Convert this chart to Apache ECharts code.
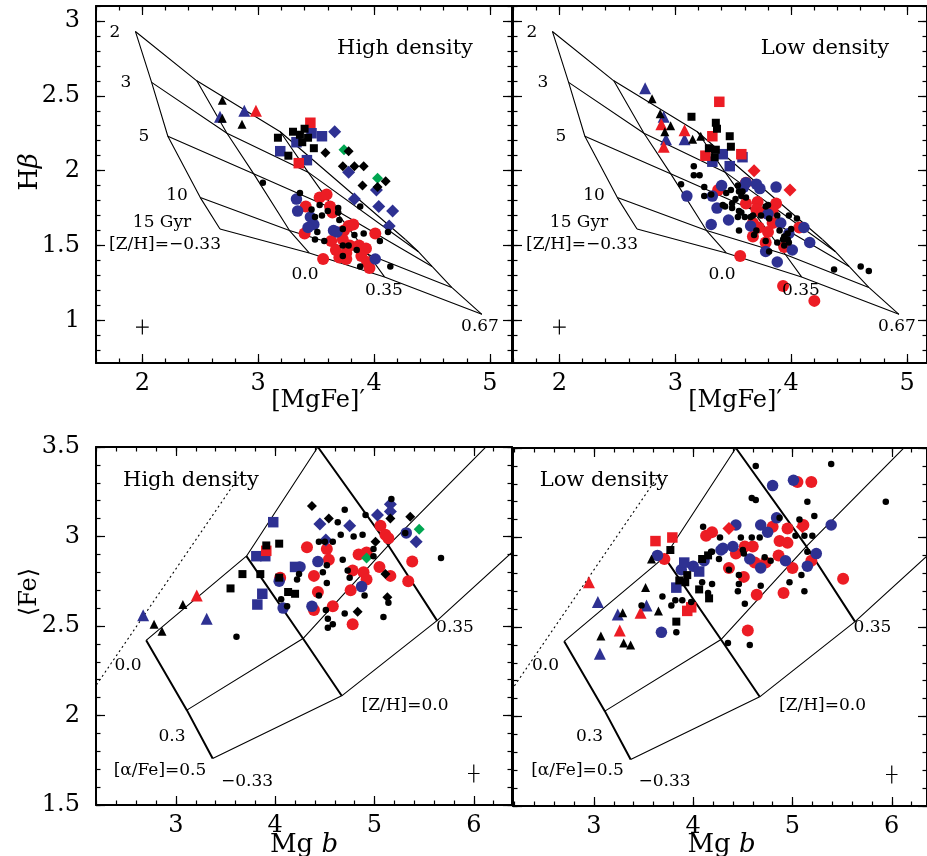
<!DOCTYPE html>
<html><head><meta charset="utf-8">
<script src="https://cdn.jsdelivr.net/npm/echarts@6/dist/echarts.min.js"></script>
<style>html,body{margin:0;padding:0;background:#fff}#c{width:927px;height:856px}</style>
</head><body><div id="c"></div>
<script>
// ---------- tick labels ----------
const TOP_X_TICKS = [2, 3, 4, 5];
const TOP_Y_TICKS = [1, 1.5, 2, 2.5, 3];
const BOT_X_TICKS = [3, 4, 5, 6];
const BOT_Y_TICKS = [1.5, 2, 2.5, 3, 3.5];

// ---------- model grid: Hbeta vs [MgFe]' (rows = [Z/H], cols = ages) ----------
const ages = [2, 3, 5, 10, 15];
const zhTop = [-0.33, 0.0, 0.35, 0.67];
const mgfeModel = [
  [1.94, 2.08, 2.22, 2.50, 2.67],
  [2.47, 2.73, 2.96, 3.27, 3.44],
  [3.19, 3.43, 3.66, 3.95, 4.09],
  [4.27, 4.38, 4.50, 4.67, 4.93]
];
const hbetaModel = [
  [2.93, 2.59, 2.23, 1.82, 1.61],
  [2.60, 2.25, 1.98, 1.60, 1.45],
  [2.26, 1.99, 1.74, 1.44, 1.29],
  [1.54, 1.46, 1.36, 1.22, 1.04]
];
// ---------- model grid: <Fe> vs Mg b (rows = [alpha/Fe], cols = [Z/H]) ----------
const alphaFe = [0.0, 0.3, 0.5];
const zhBot = [-0.33, 0.0, 0.35, 0.67];
const mgbModel = [
  [2.70, 3.71, 4.43, 5.00],
  [3.11, 4.28, 5.14, 6.30],
  [3.37, 4.67, 5.63, 6.60]
];
const feModel = [
  [2.42, 2.89, 3.50, 3.97],
  [2.03, 2.43, 2.95, 3.60],
  [1.76, 2.11, 2.53, 3.02]
];
const dottedMgb = [2.00, 3.68];
const dottedFe = [2.01, 3.37];
// typical error bars [x, y, dx, dy]
const errTop = [2.0, 0.955, 0.055, 0.05];
const errBot = [6.0, 1.676, 0.058, 0.05];

// ---------- High density, Hbeta vs [MgFe]' ----------
const tlBlackTri = [[2.69,2.47],[2.69,2.35],[2.86,2.31]];
const tlBlueTri = [[2.67,2.36],[2.88,2.40]];
const tlRedTri = [[2.98,2.40]];
const tlBlackSq = [[3.17,2.22],[3.30,2.26],[3.40,2.28],[3.36,2.24],[3.43,2.22],[3.38,2.19],[3.26,2.10],[3.48,2.15]];
const tlBlueSq = [[3.19,2.13],[3.33,2.19],[3.46,2.25],[3.55,2.23],[3.42,2.07]];
const tlRedSq = [[3.45,2.32],[3.35,2.05]];
const tlBlackDia = [[3.58,2.12],[3.78,2.13],[3.73,2.03],[3.83,2.03],[3.91,2.03],[3.90,1.90],[4.03,1.89],[4.10,1.93]];
const tlGreenDia = [[3.74,2.14],[4.03,1.95]];
const tlBlueDia = [[3.66,2.26],[3.78,1.99],[3.83,1.81],[4.02,1.87],[4.04,1.76],[4.16,1.73],[4.13,1.63]];
const tlBlackDot = [[3.04,1.92],[3.36,1.85],[3.88,1.76],[3.53,1.77],[3.46,1.74],[3.69,1.75],[3.60,1.73],[3.69,1.72],[3.49,1.69],[3.55,1.70],[3.70,1.67],[3.51,1.59],[3.73,1.61],[4.12,1.59],[3.83,1.57],[3.91,1.58],[3.49,1.54],[3.57,1.53],[4.05,1.53],[3.73,1.50],[3.78,1.50],[3.85,1.47],[3.73,1.43],[3.88,1.36],[4.14,1.36]];
const tlRedCirc = [[3.53,1.82],[3.59,1.84],[3.41,1.76],[3.62,1.76],[3.64,1.72],[3.82,1.64],[3.78,1.63],[3.40,1.58],[3.74,1.60],[4.01,1.58],[3.63,1.53],[3.73,1.54],[3.79,1.50],[3.87,1.50],[3.93,1.48],[3.67,1.47],[3.76,1.45],[3.70,1.42],[3.76,1.41],[3.89,1.43],[3.56,1.41],[3.94,1.39],[3.96,1.35]];
const tlBlueCirc = [[3.33,1.81],[3.34,1.73],[3.45,1.69],[3.48,1.64],[3.43,1.62],[3.65,1.60],[3.68,1.59],[4.01,1.41]];

// ---------- Low density, Hbeta vs [MgFe]' ----------
const trBlueTri = [[2.74,2.55],[2.90,2.36],[3.08,2.21],[2.92,2.21]];
const trBlackTri = [[2.80,2.48],[2.87,2.38],[2.96,2.30],[2.91,2.26],[3.15,2.21],[3.22,2.23]];
const trRedTri = [[2.88,2.31],[3.08,2.27],[2.90,2.16]];
const trRedSq = [[3.38,2.46],[3.32,2.23],[3.26,2.10],[3.57,2.11]];
const trBlackSq = [[3.14,2.36],[3.35,2.32],[3.36,2.28],[3.47,2.23],[3.48,2.16],[3.29,2.15],[3.34,2.09],[3.35,2.14]];
const trBlueSq = [[3.41,2.11],[3.32,2.06],[3.47,2.03],[3.58,2.09]];
const trRedDia = [[3.68,2.00],[3.99,1.87]];
const trBlackDot = [[3.16,2.03],[3.16,1.97],[3.21,1.97],[3.05,1.91],[3.25,1.89],[3.25,1.83],[3.31,1.84],[3.44,1.85],[3.48,1.87],[3.54,1.90],[3.55,1.86],[3.57,1.83],[3.52,1.81],[3.49,1.78],[3.43,1.76],[3.41,1.77],[3.49,1.75],[3.55,1.73],[3.60,1.69],[3.54,1.69],[3.58,1.86],[3.61,1.82],[3.78,1.76],[3.80,1.77],[3.65,1.69],[3.74,1.70],[3.81,1.68],[3.88,1.70],[3.98,1.70],[4.05,1.68],[3.57,1.72],[3.67,1.70],[3.55,1.60],[3.70,1.60],[3.68,1.57],[3.78,1.53],[3.81,1.46],[3.88,1.52],[3.93,1.54],[3.94,1.56],[3.97,1.54],[3.94,1.50],[3.98,1.52],[3.97,1.58],[4.00,1.61],[4.37,1.34],[4.60,1.36],[4.67,1.33],[3.90,1.60]];
const trBlueCirc = [[3.10,1.83],[3.40,1.90],[3.32,1.83],[3.59,1.89],[3.61,1.92],[3.70,1.91],[3.73,1.88],[3.87,1.89],[3.36,1.75],[3.46,1.67],[3.31,1.64],[3.80,1.71],[3.91,1.65],[4.11,1.62],[4.16,1.52],[4.01,1.47],[3.88,1.39],[3.78,1.46],[3.65,1.63],[3.98,1.58]];
const trRedCirc = [[3.37,1.87],[3.61,1.92],[3.71,1.79],[3.61,1.78],[3.87,1.78],[3.70,1.74],[3.75,1.72],[3.84,1.73],[3.84,1.65],[3.67,1.65],[3.72,1.62],[3.80,1.59],[4.07,1.62],[3.78,1.52],[3.67,1.56],[3.94,1.49],[3.56,1.43],[3.93,1.23],[4.20,1.13]];

// ---------- High density, <Fe> vs Mg b ----------
const blBlueTri = [[2.67,2.56],[3.31,2.54]];
const blBlackTri = [[2.78,2.51],[2.86,2.47],[3.07,2.62]];
const blRedTri = [[3.21,2.67]];
const blBlackSq = [[3.55,2.71],[3.67,2.79],[3.85,2.79],[3.91,2.95],[4.04,2.96],[4.04,2.77],[4.13,2.69],[4.20,2.68]];
const blBlueSq = [[3.98,3.08],[3.81,2.89],[3.90,2.89],[4.20,2.83],[3.87,2.68],[3.82,2.62]];
const blRedSq = [[3.91,2.92]];
const blBlackDia = [[4.37,3.17],[4.54,3.10],[5.16,3.10],[5.36,3.11],[5.01,2.97],[5.11,2.79],[5.13,2.66],[4.83,2.58]];
const blBlueDia = [[4.45,3.07],[4.51,2.98],[4.75,3.06],[5.03,3.12],[5.16,3.18],[5.16,3.14],[5.42,2.97]];
const blGreenDia = [[5.45,3.04],[4.92,2.88]];
const blBlackDot = [[3.61,2.44],[4.44,2.97],[4.50,2.97],[4.58,2.97],[4.24,2.79],[4.22,2.76],[4.48,2.80],[4.52,2.84],[4.52,2.74],[4.06,2.65],[4.12,2.61],[4.44,2.67],[4.51,2.59],[4.53,2.54],[4.53,2.49],[5.17,3.21],[4.70,3.15],[4.63,3.08],[4.91,3.12],[4.66,3.01],[4.79,3.00],[4.88,3.01],[4.99,2.93],[4.99,2.89],[4.68,2.87],[4.73,2.81],[4.75,2.77],[4.90,2.67],[5.14,2.63],[4.70,2.57],[4.58,2.51],[5.09,2.55],[5.31,3.02],[5.67,2.88]];
const blRedCirc = [[4.32,2.94],[4.05,2.77],[4.39,2.78],[4.43,2.69],[4.39,2.59],[4.52,2.93],[4.54,2.87],[4.58,2.61],[4.76,2.70],[4.78,2.81],[4.84,2.90],[4.92,2.91],[4.89,2.80],[4.92,2.76],[5.05,2.83],[5.16,2.78],[5.34,2.75],[5.38,2.86],[5.06,3.06],[5.11,3.01],[5.14,2.99],[4.78,2.51]];
const blBlueCirc = [[4.25,2.83],[4.43,2.86],[4.37,2.61],[4.08,2.60],[4.04,2.75],[4.87,2.72],[5.32,3.02]];

// ---------- Low density, <Fe> vs Mg b ----------
const brRedTri = [[2.95,2.75],[3.47,2.58],[3.26,2.48]];
const brBlueTri = [[3.04,2.64],[3.53,2.62],[3.24,2.57],[3.06,2.35]];
const brBlackTri = [[3.52,2.72],[3.58,2.88],[3.65,2.59],[3.29,2.58],[3.07,2.45],[3.30,2.41],[3.37,2.40]];
const brRedSq = [[3.62,2.98],[3.79,3.00],[3.94,2.59],[3.98,2.61]];
const brBlackSq = [[3.77,2.93],[3.86,2.76],[3.94,2.79],[3.92,2.75],[4.06,2.71],[4.16,2.66],[3.83,2.53],[4.09,2.88],[4.15,2.90]];
const brBlueSq = [[3.91,2.86],[3.83,2.72],[4.06,2.81]];
const brRedDia = [[4.36,3.05],[5.10,3.06]];
const brBlueCirc = [[3.64,2.90],[3.88,2.82],[4.00,2.84],[4.11,2.87],[4.28,2.93],[3.68,2.47],[4.80,3.29],[5.01,3.32],[4.84,3.11],[4.43,3.07],[4.68,3.07],[4.75,3.03],[5.39,3.07],[4.30,2.94],[4.40,2.95],[4.57,2.88],[4.68,2.83],[4.93,2.87],[5.15,2.84],[5.24,2.91]];
const brRedCirc = [[3.71,2.88],[4.19,3.03],[4.13,3.01],[5.05,3.31],[5.19,3.31],[4.80,3.06],[4.95,3.05],[5.11,3.07],[4.87,2.98],[4.95,2.97],[4.52,2.95],[4.60,2.95],[4.43,2.91],[4.62,2.86],[4.73,2.86],[4.86,2.90],[5.00,2.83],[5.19,2.87],[4.36,2.83],[4.51,2.78],[4.64,2.68],[4.91,2.69],[5.51,2.77],[4.55,2.48]];
const brBlackDot = [[4.63,3.40],[5.39,3.41],[5.94,3.20],[4.59,3.22],[4.63,3.21],[5.15,3.20],[5.22,3.12],[5.07,3.10],[4.87,3.11],[4.10,3.06],[4.27,3.00],[4.48,3.00],[4.59,3.00],[4.67,3.00],[5.03,3.01],[5.12,3.01],[5.20,3.01],[4.19,2.92],[4.50,2.93],[4.51,2.91],[4.26,2.88],[4.72,2.89],[4.78,2.87],[5.15,2.92],[4.36,2.82],[4.46,2.79],[4.46,2.74],[4.45,2.70],[4.68,2.73],[4.97,2.75],[5.09,2.79],[5.12,2.70],[4.19,2.74],[4.52,2.63],[4.35,2.41],[4.57,2.40],[3.98,2.64],[3.89,2.65],[4.18,2.92],[4.09,2.75],[4.15,2.69],[3.69,2.67],[3.78,2.62],[3.82,2.65],[3.48,2.62],[3.83,2.47]];

// ---------- rendering ----------
const SERIF = "'DejaVu Serif'";
const RED = '#ec1c24', BLUE = '#2e3192', GREEN = '#00a651', BLACK = '#000';

const panels = [
  {left:96,  top:6,   w:416, h:357, xr:[1.6, 5.19],   yr:[0.715, 3.1], xt:TOP_X_TICKS, yt:TOP_Y_TICKS, ylab:true},
  {left:513, top:6,   w:414, h:357, xr:[1.6, 5.172],  yr:[0.715, 3.1], xt:TOP_X_TICKS, yt:TOP_Y_TICKS, ylab:false},
  {left:96,  top:447, w:416, h:358, xr:[2.195, 6.385], yr:[1.5, 3.5],  xt:BOT_X_TICKS, yt:BOT_Y_TICKS, ylab:true},
  {left:513, top:448, w:414, h:358, xr:[2.185, 6.355], yr:[1.5, 3.5],  xt:BOT_X_TICKS, yt:BOT_Y_TICKS, ylab:false}
];

function minorVals(lo, hi, step) {
  const out = [];
  for (let k = Math.ceil(lo / step - 1e-9); k * step <= hi + 1e-9; k++) out.push(+(k * step).toFixed(4));
  return out;
}

const grid = [], xAxis = [], yAxis = [];
panels.forEach((p, i) => {
  grid.push({left:p.left, top:p.top, width:p.w, height:p.h, containLabel:false, outerBoundsMode:'none', show:false});
  const axLine = {show:true, onZero:false, lineStyle:{color:BLACK, width:2}};
  const tickStyle = {color:BLACK, width:1.2};
  const xb = {type:'value', gridIndex:i, min:p.xr[0], max:p.xr[1], splitLine:{show:false}, axisPointer:{show:false}, silent:true};
  const xMaj = {show:true, inside:true, length:9, customValues:p.xt, lineStyle:tickStyle};
  const xMin = {show:true, inside:true, length:4.5, customValues:minorVals(p.xr[0], p.xr[1], 0.2), lineStyle:tickStyle};
  xAxis.push(Object.assign({}, xb, {position:'bottom', axisLine:axLine, axisTick:xMaj,
    axisLabel:{show:true, customValues:p.xt, margin:9, fontFamily:'DejaVu Serif', fontSize:24, color:BLACK}}));
  xAxis.push(Object.assign({}, xb, {position:'bottom', axisLine:{show:false}, axisTick:xMin, axisLabel:{show:false}}));
  xAxis.push(Object.assign({}, xb, {position:'top', axisLine:axLine, axisTick:xMaj, axisLabel:{show:false}}));
  xAxis.push(Object.assign({}, xb, {position:'top', axisLine:{show:false}, axisTick:xMin, axisLabel:{show:false}}));
  const yb = {type:'value', gridIndex:i, min:p.yr[0], max:p.yr[1], splitLine:{show:false}, axisPointer:{show:false}, silent:true};
  const yMaj = {show:true, inside:true, length:9, customValues:p.yt, lineStyle:tickStyle};
  const yMin = {show:true, inside:true, length:4.5, customValues:minorVals(p.yr[0], p.yr[1], 0.1), lineStyle:tickStyle};
  yAxis.push(Object.assign({}, yb, {position:'left', axisLine:axLine, axisTick:yMaj,
    axisLabel:{show:p.ylab, customValues:p.yt, margin:16, fontFamily:'DejaVu Serif', fontSize:24, color:BLACK}}));
  yAxis.push(Object.assign({}, yb, {position:'left', axisLine:{show:false}, axisTick:yMin, axisLabel:{show:false}}));
  yAxis.push(Object.assign({}, yb, {position:'right', axisLine:axLine, axisTick:yMaj, axisLabel:{show:false}}));
  yAxis.push(Object.assign({}, yb, {position:'right', axisLine:{show:false}, axisTick:yMin, axisLabel:{show:false}}));
});

const series = [];
function poly(gi, pts, width, type) {
  series.push({type:'line', xAxisIndex:gi*4, yAxisIndex:gi*4, data:pts, symbol:'none', clip:true,
    lineStyle:{color:BLACK, width:width, type:type || 'solid'}, silent:true, animation:false, z:1});
}
function scat(gi, data, symbol, size, color, z) {
  series.push({type:'scatter', xAxisIndex:gi*4, yAxisIndex:gi*4, data:data, symbol:symbol, symbolSize:size,
    itemStyle:{color:color, opacity:1}, silent:true, animation:false, z:z});
}
function cross(gi, e) {
  poly(gi, [[e[0]-e[2], e[1]], [e[0]+e[2], e[1]]], 1.2);
  poly(gi, [[e[0], e[1]-e[3]], [e[0], e[1]+e[3]]], 1.2);
}

// top model grids
[0, 1].forEach(gi => {
  zhTop.forEach((z, zi) => poly(gi, ages.map((a, ai) => [mgfeModel[zi][ai], hbetaModel[zi][ai]]), 1.1));
  ages.forEach((a, ai) => poly(gi, zhTop.map((z, zi) => [mgfeModel[zi][ai], hbetaModel[zi][ai]]), 1.1));
  cross(gi, errTop);
});
// bottom model grids
[2, 3].forEach(gi => {
  alphaFe.forEach((al, k) => poly(gi, zhBot.map((z, j) => [mgbModel[k][j], feModel[k][j]]), 1.1));
  [0, 1, 2].forEach(j => poly(gi, alphaFe.map((al, k) => [mgbModel[k][j], feModel[k][j]]), 2));
  poly(gi, [[dottedMgb[0], dottedFe[0]], [dottedMgb[1], dottedFe[1]]], 1.1, [2, 3]);
  cross(gi, errBot);
});

function addSet(gi, s) {
  scat(gi, s.redCirc, 'circle', 12, RED, 2);
  scat(gi, s.blueCirc, 'circle', 11.5, BLUE, 2);
  scat(gi, s.blueSq, 'rect', 10.5, BLUE, 2);
  scat(gi, s.redSq, 'rect', 10.5, RED, 2);
  scat(gi, s.blueTri, 'triangle', 12, BLUE, 2);
  scat(gi, s.redTri, 'triangle', 12, RED, 2);
  if (s.blueDia) scat(gi, s.blueDia, 'diamond', 13, BLUE, 2);
  if (s.greenDia) scat(gi, s.greenDia, 'diamond', 11, GREEN, 3);
  if (s.redDia) scat(gi, s.redDia, 'diamond', 13, RED, 2);
  scat(gi, s.blackSq, 'rect', 8, BLACK, 3);
  scat(gi, s.blackTri, 'triangle', 9, BLACK, 3);
  if (s.blackDia) scat(gi, s.blackDia, 'diamond', 10, BLACK, 3);
  scat(gi, s.blackDot, 'circle', 6.5, BLACK, 4);
}
addSet(0, {redCirc:tlRedCirc, blueCirc:tlBlueCirc, blueSq:tlBlueSq, redSq:tlRedSq, blueTri:tlBlueTri, redTri:tlRedTri,
  blueDia:tlBlueDia, greenDia:tlGreenDia, blackSq:tlBlackSq, blackTri:tlBlackTri, blackDia:tlBlackDia, blackDot:tlBlackDot});
addSet(1, {redCirc:trRedCirc, blueCirc:trBlueCirc, blueSq:trBlueSq, redSq:trRedSq, blueTri:trBlueTri, redTri:trRedTri,
  redDia:trRedDia, blackSq:trBlackSq, blackTri:trBlackTri, blackDot:trBlackDot});
addSet(2, {redCirc:blRedCirc, blueCirc:blBlueCirc, blueSq:blBlueSq, redSq:blRedSq, blueTri:blBlueTri, redTri:blRedTri,
  blueDia:blBlueDia, greenDia:blGreenDia, blackSq:blBlackSq, blackTri:blBlackTri, blackDia:blBlackDia, blackDot:blBlackDot});
addSet(3, {redCirc:brRedCirc, blueCirc:brBlueCirc, blueSq:brBlueSq, redSq:brRedSq, blueTri:brBlueTri, redTri:brRedTri,
  redDia:brRedDia, blackSq:brBlackSq, blackTri:brBlackTri, blackDot:brBlackDot});

// ---------- text ----------
function T(text, x, y, size, family, extra) {
  return Object.assign({type:'text', x:x, y:y, z:100, silent:true,
    style:{text:text, fill:BLACK, font: size + 'px ' + family, textAlign:'center', textVerticalAlign:'middle', align:'center', verticalAlign:'middle'}}, extra || {});
}
const graphic = [];
const LBL = 17;
[0, 417].forEach((dx, k) => {
  graphic.push(T('2', 115 + dx, 33, LBL, SERIF));
  graphic.push(T('3', 126 + dx, 83, LBL, SERIF));
  graphic.push(T('5', 144 + dx, 137, LBL, SERIF));
  graphic.push(T('10', 177 + dx, 196, LBL, SERIF));
  graphic.push(T('15 Gyr', 162 + dx, 223, LBL, SERIF));
  graphic.push(T('[Z/H]=\u22120.33', 165 + dx, 245, LBL, SERIF));
  graphic.push(T('0.0', 305 + dx, 275, LBL, SERIF));
  graphic.push(T('0.35', 384 + dx, 291, LBL, SERIF));
  graphic.push(T('0.67', 480 + dx, 327, LBL, SERIF));
  graphic.push(T(k === 0 ? 'High density' : 'Low density', (k === 0 ? 405 : 825), 49, 21, SERIF));
  graphic.push(T('[MgFe]\u2032', 318 + dx, 401, 24, SERIF));
});
[0, 417.5].forEach((dx, k) => {
  graphic.push(T('0.0', 128 + dx, 666, LBL, SERIF));
  graphic.push(T('0.3', 172 + dx, 737, LBL, SERIF));
  graphic.push(T('[\u03b1/Fe]=0.5', 160 + dx, 771, LBL, SERIF));
  graphic.push(T('\u22120.33', 247 + dx, 782, LBL, SERIF));
  graphic.push(T('[Z/H]=0.0', 405 + dx, 706, LBL, SERIF));
  graphic.push(T('0.35', 455 + dx, 628, LBL, SERIF));
  graphic.push(T(k === 0 ? 'High density' : 'Low density', (k === 0 ? 191 : 604), 481, 21, SERIF));
  graphic.push({type:'text', x:304 + dx, y:845, z:100, silent:true,
    style:{text:'{a|Mg }{b|b}', textAlign:'center', textVerticalAlign:'middle', align:'center', verticalAlign:'middle',
      rich:{a:{fontFamily:'DejaVu Serif', fontSize:26, fill:BLACK, color:BLACK}, b:{fontFamily:'DejaVu Serif', fontStyle:'italic', fontSize:26, fill:BLACK, color:BLACK}}}});
});
graphic.push({type:'text', x:30, y:172, z:100, rotation:Math.PI/2, silent:true,
  style:{text:'{a|H}{b|\u03b2}', textAlign:'center', textVerticalAlign:'middle', align:'center', verticalAlign:'middle',
    rich:{a:{fontFamily:'DejaVu Serif', fontSize:26, fill:BLACK, color:BLACK}, b:{fontFamily:'DejaVu Serif', fontStyle:'italic', fontSize:26, fill:BLACK, color:BLACK}}}});
graphic.push(Object.assign(T('\u27e8Fe\u27e9', 30, 592, 24, "'DejaVu Serif','DejaVu Sans'"), {rotation:Math.PI/2}));

const chart = echarts.init(document.getElementById('c'), null, {renderer:'canvas'});
chart.setOption({
  backgroundColor:'#ffffff',
  animation:false,
  grid:grid, xAxis:xAxis, yAxis:yAxis, series:series, graphic:graphic,
  tooltip:{show:false}
});
</script>
</body></html>
